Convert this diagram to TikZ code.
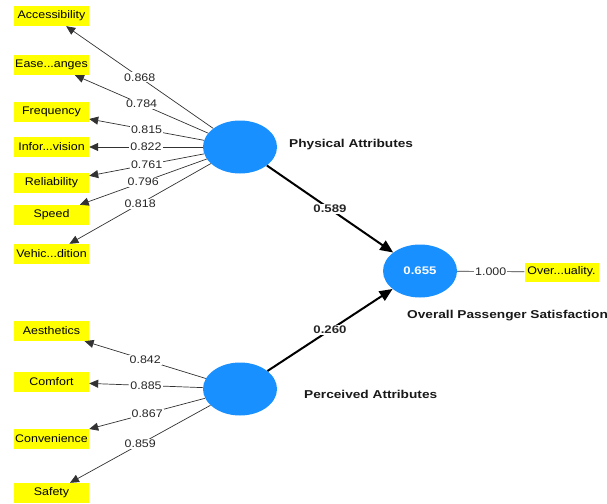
\documentclass[tikz,border=0pt]{standalone}
\usepackage{fontspec}
\setmainfont{Liberation Sans}
\newfontfamily\nrm[FakeStretch=1.13]{Liberation Sans}
\newfontfamily\bld[FakeStretch=1.2]{Liberation Sans}
\usetikzlibrary{shapes.geometric,arrows.meta}
\definecolor{lvblue}{RGB}{25,144,255}
\definecolor{indyellow}{RGB}{255,255,0}
\definecolor{lineg}{RGB}{50,50,50}
\tikzset{
  indbox/.style={fill=indyellow, minimum width=75pt, minimum height=20pt, inner sep=0pt,
    font=\nrm\fontsize{11}{13}\selectfont},
  lv/.style={ellipse, fill=lvblue, minimum width=74pt, minimum height=53pt, inner sep=0pt},
  outerarr/.style={draw=lineg, line width=0.7pt, -{Triangle[length=9pt,width=8pt]}},
  outerline/.style={draw=lineg, line width=0.7pt},
  innerarr/.style={draw=black, line width=2pt, -{Triangle[length=13pt,width=11pt]}},
  ld/.style={fill=white, inner sep=1pt, text=black!85, font=\nrm\fontsize{11}{13}\selectfont},
  pd/.style={fill=white, inner sep=1pt, text=black!85, font=\bld\bfseries\fontsize{11}{13}\selectfont},
  lvname/.style={anchor=west, inner sep=0pt, text=black!90, font=\bld\bfseries\fontsize{11.4}{13}\selectfont}
}
\begin{document}
\begin{tikzpicture}[x=1pt,y=-1pt]
\useasboundingbox (0,0) rectangle (607,503);
% latent variables
\node[lv] (phys) at (240,147) {};
\node[lv] (perc) at (240,389) {};
\node[lv, text=white, font=\bld\bfseries\fontsize{11}{13}\selectfont] (ops) at (420,271) {0.655};
% indicators
\node[indbox] (acc) at (51.5,16) {Accessibility};
\node[indbox] (ease) at (51.5,65) {Ease...anges};
\node[indbox] (freq) at (51.5,112) {Frequency};
\node[indbox] (info) at (51.5,147) {Infor...vision};
\node[indbox] (rel) at (51.5,183) {Reliability};
\node[indbox] (spd) at (51.5,215) {Speed};
\node[indbox] (veh) at (51.5,254) {Vehic...dition};
\node[indbox] (aes) at (51.5,331) {Aesthetics};
\node[indbox] (com) at (51.5,382) {Comfort};
\node[indbox] (con) at (51.5,439) {Convenience};
\node[indbox] (saf) at (51.5,493) {Safety};
\node[indbox, minimum width=74pt, minimum height=19pt] (ovq) at (561.5,272) {Over...uality.};
% names
\node[lvname] (physn) at (289,144.5) {Physical Attributes};
\node[lvname] (percn) at (304,394) {Perceived Attributes};
\node[lvname] (opsn) at (407,316) {Overall Passenger Satisfaction};
% outer loadings
\draw[outerarr] (phys) -- (acc) node[ld, midway] {0.868};
\draw[outerarr] (phys) -- (ease) node[ld, midway] {0.784};
\draw[outerarr] (phys) -- (freq) node[ld, midway] {0.815};
\draw[outerarr] (phys) -- (info) node[ld, midway] {0.822};
\draw[outerarr] (phys) -- (rel) node[ld, midway] {0.761};
\draw[outerarr] (phys) -- (spd) node[ld, midway] {0.796};
\draw[outerarr] (phys) -- (veh) node[ld, midway] {0.818};
\draw[outerarr] (perc) -- (aes) node[ld, midway] {0.842};
\draw[outerarr] (perc) -- (com) node[ld, midway] {0.885};
\draw[outerarr] (perc) -- (con) node[ld, midway] {0.867};
\draw[outerarr] (perc) -- (saf) node[ld, midway] {0.859};
\draw[outerline] (ops) -- (ovq) node[ld, midway] {1.000};
% path coefficients
\draw[innerarr] (phys) -- (ops) node[pd, midway] {0.589};
\draw[innerarr] (perc) -- (ops) node[pd, midway] {0.260};
\end{tikzpicture}
\end{document}
